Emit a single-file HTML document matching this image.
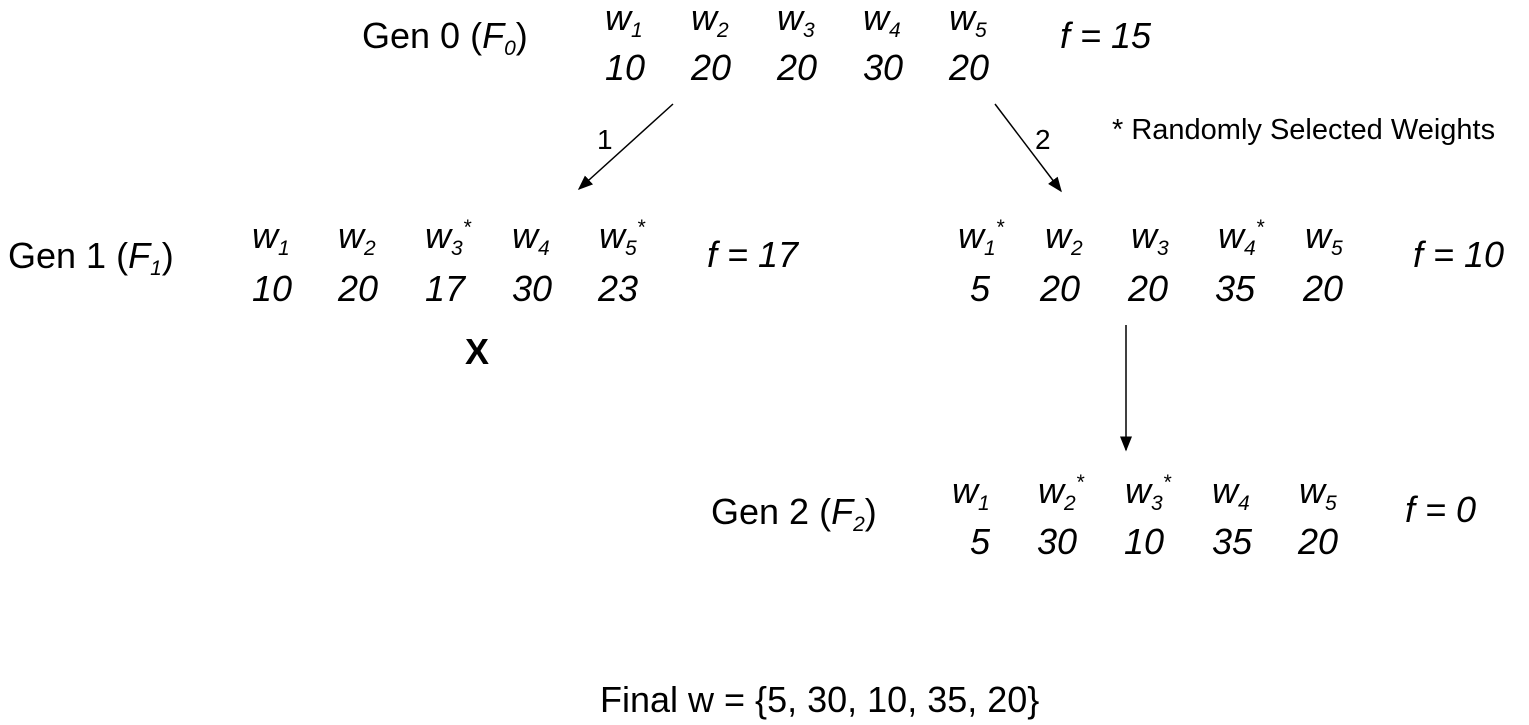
<!DOCTYPE html>
<html><head><meta charset="utf-8">
<style>
html,body{margin:0;padding:0;background:#fff;}
#root{position:relative;width:1529px;height:725px;overflow:hidden;font-family:"Liberation Sans",sans-serif;color:#000;}
.t{position:absolute;font-size:36px;line-height:40px;white-space:nowrap;}
.i{font-style:italic;}
sub{font-size:21px;vertical-align:-7px;line-height:0;}
sup{font-size:21px;vertical-align:14px;line-height:0;}
svg{position:absolute;left:0;top:0;}
</style></head>
<body>
<div id="root">
<svg width="1529" height="725">
<defs><marker id="ah" markerWidth="10" markerHeight="10" refX="9" refY="5" orient="auto"><path d="M0,1 L10,5 L0,9 z" fill="#000"/></marker></defs>
<line x1="673" y1="104" x2="579" y2="189" stroke="#000" stroke-width="1.5" marker-end="url(#ah)"/>
<line x1="995" y1="104" x2="1061" y2="191" stroke="#000" stroke-width="1.5" marker-end="url(#ah)"/>
<line x1="1126" y1="325" x2="1126" y2="450" stroke="#000" stroke-width="1.5" marker-end="url(#ah)"/>
</svg>

<div class="t" style="left:362px;top:16px">Gen 0 (<i>F<sub>0</sub></i>)</div>
<div class="t i" style="left:605px;top:-2px">w<sub>1</sub></div>
<div class="t i" style="left:691px;top:-2px">w<sub>2</sub></div>
<div class="t i" style="left:777px;top:-2px">w<sub>3</sub></div>
<div class="t i" style="left:863px;top:-2px">w<sub>4</sub></div>
<div class="t i" style="left:949px;top:-2px">w<sub>5</sub></div>
<div class="t i" style="left:605px;top:48px">10</div>
<div class="t i" style="left:691px;top:48px">20</div>
<div class="t i" style="left:777px;top:48px">20</div>
<div class="t i" style="left:863px;top:48px">30</div>
<div class="t i" style="left:949px;top:48px">20</div>
<div class="t i" style="left:1060px;top:16px">f = 15</div>

<div class="t" style="left:597px;top:120px;font-size:28px">1</div>
<div class="t" style="left:1035px;top:120px;font-size:28px">2</div>
<div class="t" style="left:1112px;top:110px;font-size:29px">* Randomly Selected Weights</div>

<div class="t" style="left:8px;top:236px">Gen 1 (<i>F<sub>1</sub></i>)</div>
<div class="t i" style="left:252px;top:216px">w<sub>1</sub></div>
<div class="t i" style="left:338px;top:216px">w<sub>2</sub></div>
<div class="t i" style="left:425px;top:216px">w<sub>3</sub><sup>*</sup></div>
<div class="t i" style="left:512px;top:216px">w<sub>4</sub></div>
<div class="t i" style="left:599px;top:216px">w<sub>5</sub><sup>*</sup></div>
<div class="t i" style="left:252px;top:269px">10</div>
<div class="t i" style="left:338px;top:269px">20</div>
<div class="t i" style="left:425px;top:269px">17</div>
<div class="t i" style="left:512px;top:269px">30</div>
<div class="t i" style="left:598px;top:269px">23</div>
<div class="t i" style="left:707px;top:235px">f = 17</div>
<div class="t" style="left:465px;top:332px;font-weight:bold">X</div>

<div class="t i" style="left:958px;top:216px">w<sub>1</sub><sup>*</sup></div>
<div class="t i" style="left:1045px;top:216px">w<sub>2</sub></div>
<div class="t i" style="left:1131px;top:216px">w<sub>3</sub></div>
<div class="t i" style="left:1218px;top:216px">w<sub>4</sub><sup>*</sup></div>
<div class="t i" style="left:1305px;top:216px">w<sub>5</sub></div>
<div class="t i" style="left:970px;top:269px">5</div>
<div class="t i" style="left:1040px;top:269px">20</div>
<div class="t i" style="left:1128px;top:269px">20</div>
<div class="t i" style="left:1215px;top:269px">35</div>
<div class="t i" style="left:1303px;top:269px">20</div>
<div class="t i" style="left:1413px;top:235px">f = 10</div>

<div class="t" style="left:711px;top:492px">Gen 2 (<i>F<sub>2</sub></i>)</div>
<div class="t i" style="left:952px;top:471px">w<sub>1</sub></div>
<div class="t i" style="left:1038px;top:471px">w<sub>2</sub><sup>*</sup></div>
<div class="t i" style="left:1125px;top:471px">w<sub>3</sub><sup>*</sup></div>
<div class="t i" style="left:1212px;top:471px">w<sub>4</sub></div>
<div class="t i" style="left:1299px;top:471px">w<sub>5</sub></div>
<div class="t i" style="left:970px;top:522px">5</div>
<div class="t i" style="left:1037px;top:522px">30</div>
<div class="t i" style="left:1124px;top:522px">10</div>
<div class="t i" style="left:1212px;top:522px">35</div>
<div class="t i" style="left:1298px;top:522px">20</div>
<div class="t i" style="left:1405px;top:490px">f = 0</div>

<div class="t" style="left:600px;top:680px">Final w = {5, 30, 10, 35, 20}</div>
</div>
</body></html>
